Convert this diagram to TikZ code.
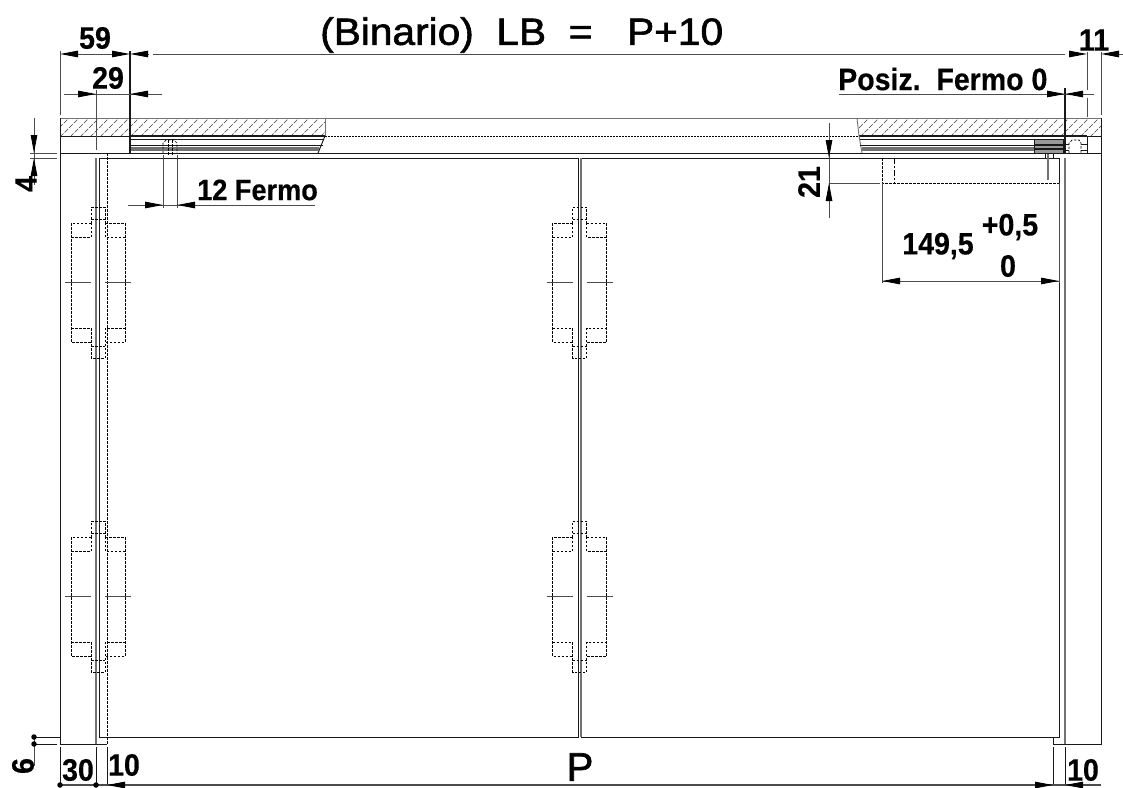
\documentclass[tikz,border=0pt]{standalone}
\usepackage{fontspec}
\setmainfont{Liberation Sans}
\newfontfamily\titlefont[FakeStretch=1.07,FakeBold=1.6]{Liberation Sans}
\newfontfamily\plainfont[FakeBold=1.6]{Liberation Sans}
\newfontfamily\dimfont[FakeStretch=0.92,FakeBold=0.4,BoldFont={Liberation Sans}]{Liberation Sans Bold}
\usetikzlibrary{arrows.meta}
\tikzset{
	outline/.style={draw=black!90,line width=0.95pt},
	greyline/.style={draw=black!55,line width=1.2pt},
	hidden/.style={draw=black,line width=0.9pt,dash pattern=on 2.5pt off 1.5pt},
	hatchline/.style={draw=black!75,line width=0.6pt,dash pattern=on 5pt off 1.5pt},
	dimline/.style={draw=black!70,line width=0.9pt},
	dimtip/.style={draw=black!70,line width=0.9pt,-{Stealth[black,length=18pt,width=6.5pt,inset=0pt]}},
	dimdot/.style={circle,fill=black,inner sep=0pt,minimum size=5.5pt},
	dimtext/.style={font=\dimfont\fontsize{31}{31}\selectfont,inner sep=0pt}
}
\begin{document}
\begin{tikzpicture}[x=1pt,y=-1pt]
	\useasboundingbox (0,0) rectangle (1123,787);

	% hatched bar
	\begin{scope}
		\clip (60,118) rectangle (325,136) (857,118) -- (1101,118) -- (1101,136) -- (859,136) -- cycle;
		\foreach \hx in {50,60,...,1100}
			\draw[hatchline] (\hx,137) -- ++(20,-20);
	\end{scope}
	\draw[greyline,line width=1pt] (60,118) -- (1101,118);
	\draw[outline] (60,136) -- (130,136);
	\draw[outline,line width=1.6pt] (130,136) -- (325,136);
	\draw[outline,line width=1.6pt] (859,136) -- (1087,136);
	\draw[outline] (1087,136) -- (1101,136);
	\draw[hidden,line width=0.8pt,dash pattern=on 2pt off 1pt] (325,136) -- (859,136);
	\draw[greyline,line width=0.9pt] (325,118) -- (325,136);
	\draw[greyline,line width=0.9pt] (857,118) -- (859,136) -- (862,153);

	% track
	\draw[outline] (325,136) -- (318,153);
	\foreach \ty in {139,145}
	{
		\draw[outline,line width=0.9pt] (130,\ty) -- (323,\ty);
		\draw[outline,line width=0.9pt] (860,\ty) -- (1034,\ty);
	}
	\foreach \ty in {148,150}
	{
		\draw[greyline,line width=1.5pt] (130,\ty) -- (319,\ty);
		\draw[greyline,line width=1.5pt] (862,\ty) -- (1034,\ty);
	}

	% walls and doors
	\draw[outline] (60,118) -- (60,744) -- (107,744);
	\draw[outline] (1101,118) -- (1101,744) -- (1053,744) -- (1053,737);
	\draw[outline] (1087,136) -- (1087,153);
	\draw[outline] (60,153) -- (1101,153);
	\draw[outline] (99,737) -- (99,158) -- (578,158) -- (578,737) -- cycle;
	\draw[outline] (581,158) -- (1059,158) -- (1059,737) -- (581,737);
	\draw[greyline] (581,158) -- (581,737);
	\draw[greyline] (96,158) -- (96,744);
	\draw[greyline] (1065,158) -- (1065,744);
	\draw[hidden] (107,153) -- (107,744);

	% stops
	\draw[hidden,line width=0.7pt] (163,153) -- (163,143) -- (166,140) -- (174,140) -- (177,143) -- (177,153);
	\draw[hidden,line width=0.7pt] (168,140) -- (168,155) (172,140) -- (172,155);
	\draw[outline,fill=black!40] (1034,139) rectangle (1063,153);
	\draw[outline,line width=1.4pt] (1034,145) -- (1063,145) (1034,149) -- (1063,149);
	\draw[hidden,line width=0.7pt] (1069,153) -- (1069,143) -- (1072,140) -- (1079,140) -- (1081,143) -- (1081,153);
	\draw[outline,line width=0.8pt] (1065,144) -- (1069,144) (1081,144) -- (1087,144) (1065,150) -- (1069,150) (1081,150) -- (1087,150);
	\draw[outline,line width=0.8pt] (1045,153) -- (1045,158) (1053,153) -- (1053,158);

	% hinges
	\foreach \hx/\hy in {98/282,98/596,579.5/282,579.5/596}
	{
	\begin{scope}[shift={(\hx,\hy)}]
		\draw[hidden] (-7,-59) -- (-7,-75) -- (7,-75) -- (7,-59);
		\draw[hidden] (-7,-63) -- (7,-63);
		\draw[hidden] (-7,-59) -- (-27,-59) -- (-27,60) -- (-7,60);
		\draw[hidden] (-27,-45) -- (-7,-45) -- (-7,-59);
		\draw[hidden] (-27,46) -- (-7,46) -- (-7,76) -- (7,76) -- (7,46) -- (27,46);
		\draw[hidden] (7,-59) -- (27,-59) -- (27,60) -- (7,60);
		\draw[hidden] (27,-45) -- (7,-45) -- (7,-59);
		\draw[hidden] (-7,64) -- (7,64);
		\draw[dimline,line width=1pt] (-33,0) -- (-7,0);
		\draw[dimline,line width=1pt] (7,0) -- (33,0);
	\end{scope}
	}

	% opening for the lock
	\draw[hidden] (882,158) -- (882,183) -- (1059,183);
	\draw[hidden,dash pattern=on 6pt off 2pt on 2pt off 2pt] (894,158) -- (894,183);
	\draw[greyline] (1048,154) -- (1048,180);

	% extension lines
	\draw[dimline] (60,51) -- (60,115);
	\draw[outline,line width=1.3pt] (130,51) -- (130,153);
	\draw[dimline] (1087,52) -- (1087,90);
	\draw[dimline] (1087,98) -- (1087,117);
	\draw[dimline] (1101,52) -- (1101,115);
	\draw[dimline] (96,90) -- (96,150);
	\draw[outline,line width=1.3pt] (1065,88) -- (1065,154);
	\draw[dimline] (163,155) -- (163,208);
	\draw[dimline] (177,155) -- (177,208);
	\draw[dimline] (30,153) -- (57,153);
	\draw[dimline] (30,158) -- (57,158);
	\draw[outline,line width=0.9pt] (34,737) -- (60,737);
	\draw[outline,line width=0.9pt] (34,744) -- (57,744);
	\draw[dimline] (829,183) -- (880,183);
	\draw[dimline] (882,183) -- (882,283);
	\draw[dimline] (1059,183) -- (1059,283);
	\foreach \ex in {60,96,107,1053,1065}
		\draw[outline,line width=0.9pt] (\ex,747) -- (\ex,785);

	% dimension lines
	\draw[dimline] (153,54) -- (1065,54);
	\draw[dimline] (78,54) -- (112,54);
	\draw[dimline] (64,94) -- (162,94);
	\draw[dimline] (128,205) -- (315,205);
	\draw[dimline] (839,94) -- (1094,94);
	\draw[dimline] (1118,54) -- (1123,54);
	\draw[dimline] (34,118) -- (34,185);
	\draw[dimline] (34,737) -- (34,766);
	\draw[dimline] (829,123) -- (829,218);
	\draw[dimline] (882,281) -- (1059,281);
	\draw[dimline,line width=1.2pt] (60,785) -- (1101,785);

	% arrow heads
	\foreach \ax/\ay/\bx/\by in {
		78/54/60/54, 112/54/130/54, 148/54/130/54, 1069/54/1087/54, 1119/54/1101/54,
		78/94/96/94, 148/94/130/94,
		145/205/163/205, 195/205/177/205,
		1050/94/1065/94, 1080/94/1065/94,
		34/135/34/153, 34/176/34/158,
		829/140/829/158, 829/201/829/183,
		900/281/882/281, 1041/281/1059/281,
		130/785/107/785, 1030/785/1053/785, 1083/785/1065/785}
		\draw[dimtip] (\ax,\ay) -- (\bx,\by);
	\node[dimdot] (dot30a) at (60,785) {};
	\node[dimdot] (dot30b) at (96,785) {};
	\node[dimdot] (dot6a) at (34,737) {};
	\node[dimdot] (dot6b) at (34,744) {};

	% labels
	\begin{scope}[every node/.style={dimtext}]
		\node (lab59) at (95,38) {59};
		\node (lab29) at (108,78) {29};
		\node (lab11) at (1094,40) {11};
		\node[anchor=west,font=\dimfont\fontsize{29.5}{30}\selectfont] (labfermo) at (197,190) {12 Fermo};
		\node[anchor=west] (labposiz) at (838,79) {Posiz.~~Fermo 0};
		\node (lab1495) at (938,246) {149,5};
		\node (labplus) at (1010,227) {+0,5};
		\node (labzero) at (1008,266) {0};
		\node[rotate=90] (lab4) at (26,184) {4};
		\node[rotate=90] (lab21) at (809,182) {21};
		\node[rotate=90] (lab6) at (23,766) {6};
		\node (lab30) at (78,770) {30};
		\node (lab10a) at (124,765) {10};
		\node (lab10b) at (1083,770) {10};
	\end{scope}
	\node[inner sep=0pt,anchor=west] (labtitle) at (320,35) {\titlefont\fontsize{38}{38}\selectfont (Binario)~~LB~~=~~\hspace{12pt}P+10};
	\node[inner sep=0pt] (labP) at (580,767) {\plainfont\fontsize{40}{40}\selectfont P};
\end{tikzpicture}
\end{document}
